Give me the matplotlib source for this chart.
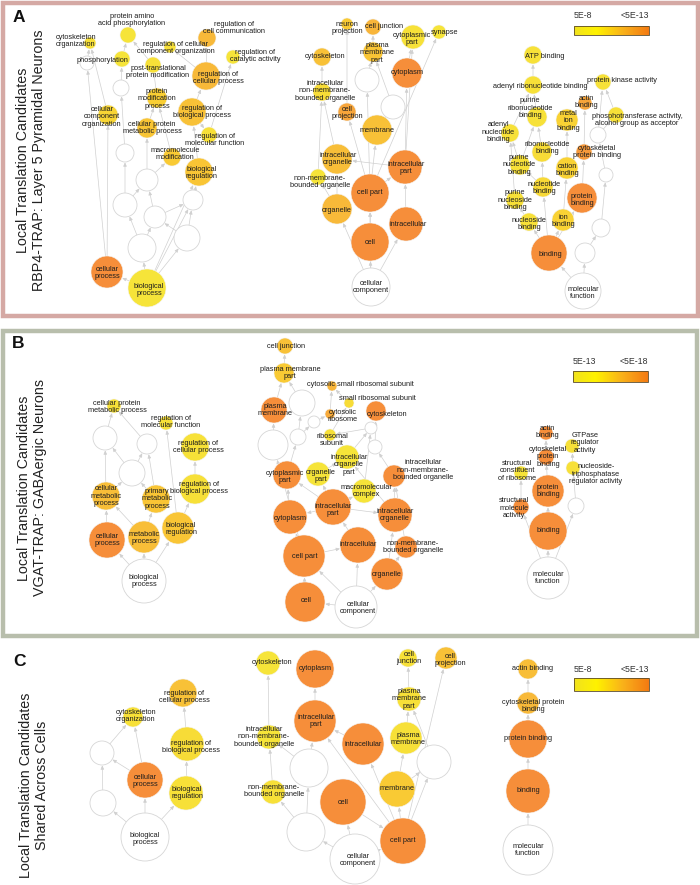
import matplotlib
matplotlib.use("Agg")
import matplotlib.pyplot as plt
import numpy as np
from matplotlib.patches import Circle, Rectangle, FancyArrowPatch
from matplotlib.colors import LinearSegmentedColormap

plt.rcParams['font.family'] = ['Liberation Sans', 'DejaVu Sans']

# ---------------- data ----------------
# node: (key, label, x, y, radius, value(None = not significant), label_x, label_y)
A_process_nodes = [
    ("pap", "protein amino\nacid phosphorylation", 128, 35, 8, 0.05, 132, 20),
    ("cyto", "cytoskeleton\norganization", 90, 43, 6, 0.1, 76, 41),
    ("phos", "phosphorylation", 122, 59, 8, 0.05, 102, 60),
    ("rccog", "regulation of cellular\ncomponent organization", 170, 47, 6, 0.1, 176, 48),
    ("rcc", "regulation of\ncell communication", 207, 38, 9, 0.6, 234, 28),
    ("rca", "regulation of\ncatalytic activity", 233, 57, 7, 0.05, 255, 56),
    ("ptpm", "post-translational\nprotein modification", 153, 65, 8, 0.1, 158, 72),
    ("rcp", "regulation of\ncellular process", 206, 76, 14, 0.6, 218, 78),
    ("pmp", "protein\nmodification\nprocess", 157, 98, 10, 0.35, 157, 99),
    ("rbp", "regulation of\nbiological process", 192, 112, 14, 0.5, 202, 112),
    ("cco", "cellular\ncomponent\norganization", 108, 115, 10, 0.25, 102, 117),
    ("cpmp", "cellular protein\nmetabolic process", 147, 128, 10, 0.45, 152, 128),
    ("rmf", "regulation of\nmolecular function", 209, 135, 8, 0.1, 215, 140),
    ("mm", "macromolecule\nmodification", 172, 157, 9, 0.4, 175, 154),
    ("br", "biological\nregulation", 199, 172, 14, 0.45, 202, 173),
    ("w1", "", 87, 63, 7, None, 0, 0),
    ("w2", "", 121, 88, 8, None, 0, 0),
    ("w3", "", 125, 153, 9, None, 0, 0),
    ("w4", "", 147, 180, 11, None, 0, 0),
    ("w5", "", 125, 205, 12, None, 0, 0),
    ("w6", "", 155, 217, 11, None, 0, 0),
    ("w7", "", 193, 200, 10, None, 0, 0),
    ("w8", "", 142, 248, 14, None, 0, 0),
    ("w9", "", 187, 238, 13, None, 0, 0),
    ("cp", "cellular\nprocess", 107, 272, 16, 1.0, 107, 273),
    ("bp", "biological\nprocess", 147, 288, 19, 0.05, 149, 290),
]
A_process_edges = [
    ("bp", "cp"), ("bp", "w8"), ("bp", "w9"), ("bp", "w7"), ("bp", "br"),
    ("cp", "w1"), ("cp", "cco"), ("w8", "w5"), ("w8", "w6"), ("w9", "w7"),
    ("w9", "w6"), ("w5", "w4"), ("w5", "w3"), ("w6", "w4"), ("w6", "w7"),
    ("w7", "br"), ("w4", "cpmp"), ("w4", "mm"), ("w3", "w2"), ("w2", "phos"),
    ("w1", "cyto"), ("cpmp", "pmp"), ("mm", "pmp"), ("pmp", "ptpm"),
    ("ptpm", "pap"), ("phos", "pap"), ("br", "rbp"), ("rbp", "rcp"),
    ("rbp", "rmf"), ("rmf", "rca"), ("rcp", "rcc"), ("rcp", "rccog"),
    ("cco", "cyto"),
]

A_component_nodes = [
    ("np", "neuron\nprojection", 347, 24, 6, 0.4, 347, 28),
    ("cj", "cell junction", 373, 27, 8, 0.65, 384, 27),
    ("cpt", "cytoplasmic\npart", 413, 37, 12, 0.08, 412, 39),
    ("syn", "synapse", 439, 32, 7, 0.05, 445, 32),
    ("pmpt", "plasma\nmembrane\npart", 373, 52, 10, 0.45, 377, 53),
    ("csk", "cytoskeleton", 322, 57, 9, 0.5, 325, 57),
    ("cyt", "cytoplasm", 407, 73, 15, 1.0, 407, 73),
    ("w1", "", 367, 80, 12, None, 0, 0),
    ("w2", "", 393, 107, 12, None, 0, 0),
    ("inmbo", "intracellular\nnon-membrane-\nbounded organelle", 322, 92, 9, 0.15, 325, 91),
    ("cpr", "cell\nprojection", 347, 112, 9, 0.8, 347, 113),
    ("mem", "membrane", 377, 130, 15, 0.5, 377, 130),
    ("io", "intracellular\norganelle", 337, 159, 15, 0.55, 338, 159),
    ("ip", "intracellular\npart", 405, 167, 17, 1.0, 406, 168),
    ("nmbo", "non-membrane-\nbounded organelle", 318, 177, 8, 0.05, 320, 182),
    ("cpa", "cell part", 370, 193, 19, 1.0, 370, 193),
    ("org", "organelle", 337, 209, 15, 0.6, 337, 210),
    ("intr", "intracellular", 406, 224, 17, 1.0, 408, 224),
    ("cell", "cell", 370, 242, 19, 1.0, 370, 242),
    ("cc", "cellular\ncomponent", 371, 287, 19, None, 371, 287),
]
A_component_edges = [
    ("cc", "cell"), ("cc", "org"), ("cc", "intr"), ("cc", "cpa"), ("cell", "cpa"),
    ("cpa", "ip"), ("cpa", "mem"), ("cpa", "cpr"), ("cpa", "w1"), ("cpa", "syn"),
    ("intr", "ip"), ("ip", "io"), ("ip", "cyt"), ("ip", "cpt"), ("org", "io"),
    ("org", "nmbo"), ("nmbo", "inmbo"), ("io", "inmbo"), ("inmbo", "csk"),
    ("cyt", "cpt"), ("mem", "w2"), ("w2", "pmpt"), ("w1", "pmpt"),
    ("pmpt", "cj"), ("cpr", "np"),
]

A_function_nodes = [
    ("atp", "ATP binding", 533, 55, 9, 0.08, 545, 56),
    ("arb", "adenyl ribonucleotide binding", 533, 85, 9, 0.08, 540, 87),
    ("pka", "protein kinase activity", 603, 82, 8, 0.08, 622, 81),
    ("prb", "purine\nribonucleotide\nbinding", 537, 117, 10, 0.08, 530, 108),
    ("ab", "actin\nbinding", 585, 103, 7, 0.8, 586, 102),
    ("mib", "metal\nion\nbinding", 567, 120, 11, 0.3, 568, 121),
    ("pta", "phosphotransferase activity,\nalcohol group as acceptor", 616, 115, 8, 0.1, 637, 120),
    ("anb", "adenyl\nnucleotide\nbinding", 510, 133, 9, 0.08, 498, 132),
    ("w1", "", 598, 135, 8, None, 0, 0),
    ("rb", "ribonucleotide\nbinding", 542, 152, 10, 0.15, 547, 148),
    ("cpb", "cytoskeletal\nprotein binding", 584, 152, 8, 0.9, 597, 152),
    ("pnb", "purine\nnucleotide\nbinding", 520, 165, 10, 0.1, 519, 165),
    ("cb", "cation\nbinding", 567, 168, 11, 0.3, 567, 170),
    ("w2", "", 606, 175, 7, None, 0, 0),
    ("nb", "nucleotide\nbinding", 543, 187, 10, 0.2, 544, 188),
    ("pnsb", "purine\nnucleoside\nbinding", 515, 200, 9, 0.1, 515, 200),
    ("prot", "protein\nbinding", 582, 198, 15, 1.0, 582, 200),
    ("nsb", "nucleoside\nbinding", 529, 222, 9, 0.1, 529, 224),
    ("ib", "ion\nbinding", 563, 220, 11, 0.3, 563, 221),
    ("w3", "", 601, 228, 9, None, 0, 0),
    ("bind", "binding", 549, 253, 18, 1.0, 550, 254),
    ("w4", "", 585, 253, 10, None, 0, 0),
    ("mf", "molecular\nfunction", 583, 291, 18, None, 583, 293),
]
A_function_edges = [
    ("mf", "bind"), ("mf", "w4"), ("w4", "w3"), ("w3", "w2"), ("w2", "w1"),
    ("w1", "pka"), ("w1", "pta"), ("pta", "pka"), ("bind", "prot"), ("bind", "ib"),
    ("bind", "nsb"), ("bind", "nb"), ("prot", "cpb"), ("cpb", "ab"), ("ib", "cb"),
    ("cb", "mib"), ("nb", "pnb"), ("nb", "rb"), ("nsb", "pnsb"), ("pnb", "anb"),
    ("pnsb", "anb"), ("pnb", "prb"), ("rb", "prb"), ("prb", "arb"), ("anb", "arb"),
    ("arb", "atp"),
]

B_process_nodes = [
    ("cpmp", "cellular protein\nmetabolic process", 114, 406, 7, 0.1, 117, 407),
    ("rmf", "regulation of\nmolecular function", 166, 423, 7, 0.1, 171, 422),
    ("w1", "", 105, 438, 12, None, 0, 0),
    ("w2", "", 147, 444, 10, None, 0, 0),
    ("w3", "", 132, 473, 13, None, 0, 0),
    ("rcp", "regulation of\ncellular process", 195, 447, 14, 0.08, 198, 447),
    ("cmp", "cellular\nmetabolic\nprocess", 106, 496, 14, 0.55, 106, 496),
    ("pmp", "primary\nmetabolic\nprocess", 156, 499, 14, 0.45, 157, 499),
    ("rbp", "regulation of\nbiological process", 195, 489, 15, 0.1, 199, 488),
    ("cp", "cellular\nprocess", 107, 540, 18, 1.0, 107, 540),
    ("mp", "metabolic\nprocess", 144, 537, 16, 0.55, 144, 538),
    ("br", "biological\nregulation", 178, 528, 16, 0.45, 181, 529),
    ("bp", "biological\nprocess", 144, 581, 22, None, 144, 581),
]
B_process_edges = [
    ("bp", "cp"), ("bp", "mp"), ("bp", "br"), ("cp", "cmp"), ("mp", "cmp"),
    ("mp", "pmp"), ("cmp", "w1"), ("cmp", "w3"), ("pmp", "w3"), ("pmp", "w2"),
    ("w3", "w1"), ("w3", "w2"), ("w1", "cpmp"), ("w2", "cpmp"), ("br", "rbp"),
    ("rbp", "rcp"), ("br", "rmf"),
]

B_component_nodes = [
    ("cj", "cell junction", 285, 346, 8, 0.5, 286, 346),
    ("pmpt", "plasma membrane\npart", 284, 373, 10, 0.4, 290, 373),
    ("cssrs", "cytosolic small ribosomal subunit", 332, 386, 5, 0.65, 360, 385),
    ("ssrs", "small ribosomal subunit", 349, 403, 5, 0.15, 377, 399),
    ("w1", "", 302, 403, 13, None, 0, 0),
    ("pm", "plasma\nmembrane", 274, 410, 13, 1.0, 275, 410),
    ("cr", "cytosolic\nribosome", 330, 414, 5, 0.75, 343, 416),
    ("csk", "cytoskeleton", 376, 411, 10, 1.0, 387, 414),
    ("w2", "", 314, 422, 6, None, 0, 0),
    ("w3", "", 371, 428, 6, None, 0, 0),
    ("w4", "", 298, 437, 8, None, 0, 0),
    ("w5", "", 273, 445, 15, None, 0, 0),
    ("w6", "", 375, 447, 7, None, 0, 0),
    ("rs", "ribosomal\nsubunit", 330, 435, 6, 0.1, 332, 440),
    ("iop", "intracellular\norganelle\npart", 347, 457, 12, 0.05, 349, 465),
    ("cpt", "cytoplasmic\npart", 287, 475, 14, 1.0, 285, 477),
    ("op", "organelle\npart", 318, 474, 12, 0.05, 321, 476),
    ("inmbo", "intracellular\nnon-membrane-\nbounded organelle", 394, 476, 11, 1.0, 423, 470),
    ("mc", "macromolecular\ncomplex", 364, 491, 12, 0.05, 366, 491),
    ("ip", "intracellular\npart", 333, 507, 18, 1.0, 333, 510),
    ("cyt", "cytoplasm", 290, 517, 17, 1.0, 290, 518),
    ("io", "intracellular\norganelle", 395, 515, 17, 1.0, 395, 515),
    ("intr", "intracellular", 358, 545, 18, 1.0, 358, 545),
    ("nmbo", "non-membrane-\nbounded organelle", 406, 547, 11, 1.0, 413, 547),
    ("cpa", "cell part", 304, 556, 21, 1.0, 305, 557),
    ("org", "organelle", 387, 574, 16, 1.0, 387, 574),
    ("cell", "cell", 305, 602, 20, 1.0, 306, 601),
    ("cc", "cellular\ncomponent", 356, 607, 21, None, 358, 608),
]
B_component_edges = [
    ("cc", "cell"), ("cc", "cpa"), ("cc", "intr"), ("cc", "org"), ("cell", "cpa"),
    ("cpa", "intr"), ("cpa", "cyt"), ("intr", "ip"), ("ip", "cyt"), ("ip", "io"),
    ("ip", "cpt"), ("ip", "op"), ("ip", "mc"), ("cyt", "cpt"), ("org", "io"),
    ("org", "nmbo"), ("nmbo", "inmbo"), ("io", "inmbo"), ("io", "iop"),
    ("op", "iop"), ("cpt", "w4"), ("mc", "w3"), ("w3", "rs"), ("rs", "ssrs"),
    ("ssrs", "cssrs"), ("cr", "cssrs"), ("w2", "cr"), ("w4", "w2"),
    ("cpa", "w5"), ("w5", "pm"), ("pm", "pmpt"), ("w1", "pmpt"), ("pmpt", "cj"),
    ("inmbo", "w6"), ("w6", "csk"), ("w4", "w1"), ("iop", "w3"),
]

B_function_nodes = [
    ("ab", "actin\nbinding", 546, 433, 7, 1.0, 547, 432),
    ("gtp", "GTPase\nregulator\nactivity", 572, 446, 7, 0.1, 585, 443),
    ("cpb", "cytoskeletal\nprotein\nbinding", 546, 457, 8, 1.0, 548, 457),
    ("scr", "structural\nconstituent\nof ribosome", 521, 473, 7, 0.05, 517, 471),
    ("ntp", "nucleoside-\ntriphosphatase\nregulator activity", 573, 468, 7, 0.1, 596, 474),
    ("prot", "protein\nbinding", 548, 491, 16, 1.0, 548, 491),
    ("sma", "structural\nmolecule\nactivity", 521, 507, 8, 1.0, 514, 508),
    ("w1", "", 576, 506, 8, None, 0, 0),
    ("bind", "binding", 548, 531, 19, 1.0, 548, 531),
    ("mf", "molecular\nfunction", 548, 578, 21, None, 548, 578),
]
B_function_edges = [
    ("mf", "bind"), ("mf", "sma"), ("mf", "w1"), ("bind", "prot"), ("prot", "cpb"),
    ("cpb", "ab"), ("sma", "scr"), ("w1", "ntp"), ("ntp", "gtp"),
]

C_process_nodes = [
    ("rcp", "regulation of\ncellular process", 183, 693, 14, 0.5, 184, 697),
    ("co", "cytoskeleton\norganization", 133, 717, 10, 0.1, 136, 716),
    ("rbp", "regulation of\nbiological process", 187, 744, 17, 0.15, 191, 747),
    ("w1", "", 102, 753, 12, None, 0, 0),
    ("cp", "cellular\nprocess", 145, 780, 18, 1.0, 145, 781),
    ("br", "biological\nregulation", 186, 793, 17, 0.1, 187, 793),
    ("w2", "", 103, 803, 13, None, 0, 0),
    ("bp", "biological\nprocess", 145, 837, 24, None, 145, 839),
]
C_process_edges = [
    ("bp", "cp"), ("bp", "br"), ("bp", "w2"), ("w2", "w1"), ("w1", "co"),
    ("cp", "w1"), ("cp", "co"), ("br", "rbp"), ("rbp", "rcp"),
]

C_component_nodes = [
    ("csk", "cytoskeleton", 268, 663, 12, 0.05, 272, 663),
    ("cyt", "cytoplasm", 315, 669, 19, 1.0, 315, 669),
    ("cj", "cell\njunction", 408, 658, 9, 0.1, 409, 658),
    ("cpr", "cell\nprojection", 446, 658, 11, 0.5, 450, 660),
    ("pmpt", "plasma\nmembrane\npart", 409, 699, 12, 0.1, 409, 699),
    ("ip", "intracellular\npart", 315, 721, 21, 1.0, 316, 721),
    ("inmbo", "intracellular\nnon-membrane-\nbounded organelle", 269, 737, 12, 0.05, 264, 737),
    ("intr", "intracellular", 363, 744, 21, 1.0, 363, 745),
    ("pm", "plasma\nmembrane", 406, 738, 16, 0.1, 408, 739),
    ("w1", "", 309, 768, 19, None, 0, 0),
    ("w2", "", 434, 762, 17, None, 0, 0),
    ("nmbo", "non-membrane-\nbounded organelle", 273, 792, 12, 0.1, 274, 791),
    ("mem", "membrane", 397, 789, 18, 0.4, 397, 789),
    ("cell", "cell", 343, 802, 23, 1.0, 343, 802),
    ("w3", "", 306, 832, 19, None, 0, 0),
    ("cpa", "cell part", 403, 841, 23, 1.0, 403, 841),
    ("cc", "cellular\ncomponent", 355, 859, 25, None, 358, 860),
]
C_component_edges = [
    ("cc", "cell"), ("cc", "cpa"), ("cc", "w3"), ("cell", "cpa"), ("w3", "nmbo"),
    ("w3", "w1"), ("nmbo", "inmbo"), ("inmbo", "csk"), ("w1", "ip"), ("w1", "inmbo"),
    ("cpa", "ip"), ("cpa", "intr"), ("cpa", "mem"), ("cpa", "w2"), ("cpa", "cpr"),
    ("intr", "ip"), ("ip", "cyt"), ("mem", "pm"), ("mem", "w2"), ("pm", "pmpt"),
    ("w2", "pmpt"), ("pmpt", "cj"),
]

C_function_nodes = [
    ("ab", "actin binding", 528, 669, 10, 0.55, 532, 669),
    ("cpb", "cytoskeletal protein\nbinding", 528, 703, 11, 0.6, 533, 706),
    ("prot", "protein binding", 528, 739, 19, 1.0, 528, 739),
    ("bind", "binding", 528, 791, 22, 1.0, 528, 791),
    ("mf", "molecular\nfunction", 528, 850, 25, None, 528, 850),
]
C_function_edges = [("mf", "bind"), ("bind", "prot"), ("prot", "cpb"), ("cpb", "ab")]

panel_letters = ["A", "B", "C"]
panel_titles = [
    "Local Translation Candidates\nRBP4-TRAP: Layer 5 Pyramidal Neurons",
    "Local Translation Candidates\nVGAT-TRAP: GABAergic Neurons",
    "Local Translation Candidates\nShared Across Cells",
]
legend_low = ["5E-8", "5E-13", "5E-8"]
legend_high = ["<5E-13", "<5E-18", "<5E-13"]

# ---------------- layout / style ----------------
W, H = 700, 885
fig = plt.figure(figsize=(W / 100, H / 100), dpi=100)
ax = fig.add_axes([0, 0, 1, 1])
ax.set_xlim(0, W)
ax.set_ylim(H, 0)
ax.axis("off")

node_cmap = LinearSegmentedColormap.from_list(
    "nodes", ["#f6e73a", "#f9cf33", "#f8b43a", "#f68e3a"])
bar_cmap = LinearSegmentedColormap.from_list(
    "bar", [(0, "#f1e21e"), (0.3, "#fff200"), (0.65, "#f9b21a"), (1, "#f47a12")])

PX2PT = 0.72
label_fs = 5.3

def draw_graph(nodes, edges):
    pos = {n[0]: n for n in nodes}
    for a, b in edges:
        na, nb = pos[a], pos[b]
        arr = FancyArrowPatch((na[2], na[3]), (nb[2], nb[3]),
                              arrowstyle="-|>,head_length=2.2,head_width=1.0",
                              shrinkA=na[4] * PX2PT, shrinkB=nb[4] * PX2PT + 0.3,
                              color="#d0d0d0", lw=0.5, zorder=1)
        ax.add_patch(arr)
    for key, label, x, y, r, v, lx, ly in nodes:
        if v is None:
            ax.add_patch(Circle((x, y), r, facecolor="white", edgecolor="#d6d6d6",
                                lw=0.6, zorder=2))
        else:
            ax.add_patch(Circle((x, y), r, facecolor=node_cmap(v), edgecolor="#f3f3f3",
                                lw=0.4, zorder=2))
        if label:
            ax.text(lx, ly, label, ha="center", va="center", fontsize=label_fs,
                    color="#1e1e1e", linespacing=1.15, zorder=3)

for nodes, edges in [
    (A_process_nodes, A_process_edges), (A_component_nodes, A_component_edges),
    (A_function_nodes, A_function_edges), (B_process_nodes, B_process_edges),
    (B_component_nodes, B_component_edges), (B_function_nodes, B_function_edges),
    (C_process_nodes, C_process_edges), (C_component_nodes, C_component_edges),
    (C_function_nodes, C_function_edges)]:
    draw_graph(nodes, edges)

# panel frames
ax.add_patch(Rectangle((2.5, 2.5), 695.5, 313, fill=False, edgecolor="#d5a9a4",
                       lw=3.2, zorder=0))
ax.add_patch(Rectangle((2.5, 330.5), 694.5, 305, fill=False, edgecolor="#b8beac",
                       lw=3.2, zorder=0))

letter_pos = [(19, 18), (18, 344), (19, 661)]
title_pos = [(31, 160), (32, 488), (34, 785)]
for i in range(3):
    ax.text(*letter_pos[i], panel_letters[i], fontsize=12.5, fontweight="bold",
            ha="center", va="center", color="#111")
    ax.text(*title_pos[i], panel_titles[i], fontsize=10.3, rotation=90,
            ha="center", va="center", color="#222", linespacing=1.15)

# color legends
bar_boxes = [(574, 649, 26, 35), (573, 648, 371, 382), (574, 649, 678, 691)]
label_y = [15, 362, 670]
grad = np.linspace(0, 1, 256)[None, :]
for i, (x0, x1, y0, y1) in enumerate(bar_boxes):
    ax.imshow(grad, cmap=bar_cmap, extent=(x0, x1, y1, y0), aspect="auto",
              zorder=4, interpolation="bilinear")
    ax.add_patch(Rectangle((x0, y0), x1 - x0, y1 - y0, fill=False,
                           edgecolor="#5a4a2a", lw=0.6, zorder=5))
    ax.text(x0, label_y[i], legend_low[i], ha="left", va="center", fontsize=6.3,
            color="#333")
    ax.text(x1, label_y[i], legend_high[i], ha="right", va="center", fontsize=6.3,
            color="#333")

ax.set_xlim(0, W)
ax.set_ylim(H, 0)
fig.savefig("out.png", dpi=100)
